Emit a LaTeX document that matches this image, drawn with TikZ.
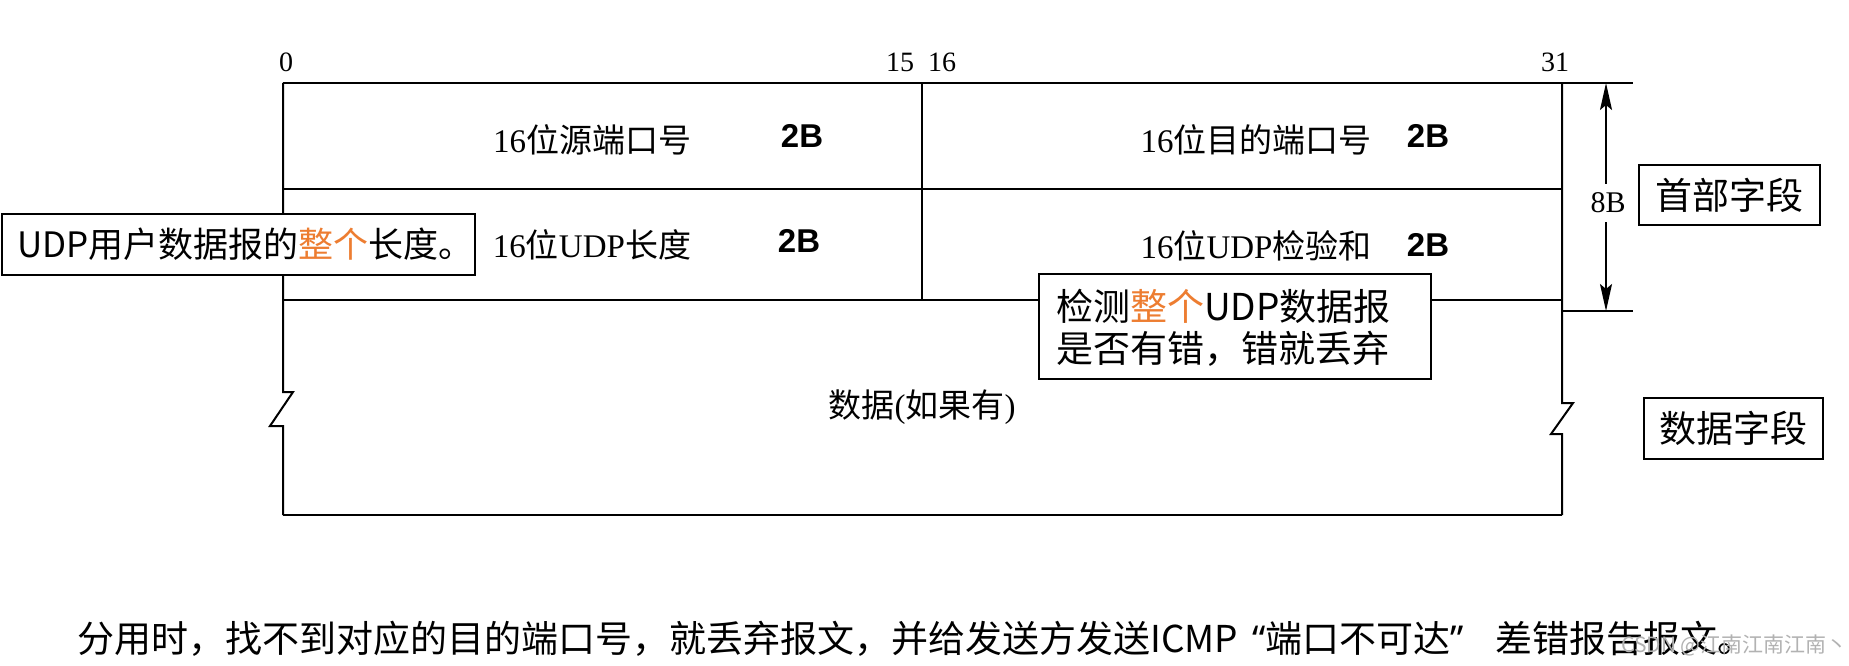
\documentclass[tikz,border=0pt]{standalone}
\usepackage{fontspec}
\setmainfont{Liberation Serif}
\newfontfamily\cjk{Noto Sans CJK SC}
\newfontfamily\bsans{Liberation Sans}
\newfontfamily\lsans{Noto Sans}
\definecolor{orng}{HTML}{ED7D31}
\usetikzlibrary{arrows.meta}
\newcommand{\zg}[1]{{\cjk #1}}
\begin{document}
\begin{tikzpicture}[x=1pt,y=-1pt,
  hline/.style={line width=2.6pt},
  vline/.style={line width=2pt},
  cell/.style={inner sep=0pt, font=\fontsize{33}{40}\selectfont},
  bb/.style={inner sep=0pt, font=\bsans\bfseries\fontsize{33}{38}\selectfont},
  bitlbl/.style={inner sep=0pt, font=\fontsize{28}{32}\selectfont},
  boxnode/.style={draw, line width=2pt, fill=white, inner sep=0pt, anchor=north west},
  cjktext/.style={inner sep=0pt, font=\cjk\fontsize{#1}{#1}\selectfont},
  cjktext/.default=36
]
\useasboundingbox (0,0) rectangle (1849,666);
\fill[white] (0,0) rectangle (1849,666);

% frame
\draw[hline] (283,83) -- (1633,83);
\draw[vline] (283,83) -- (283,392) -- (293,392) -- (270,426) -- (283,426) -- (283,515);
\draw[hline] (283,515) -- (1562,515);
\draw[vline] (1562,515) -- (1562,434) -- (1551,434) -- (1573,403) -- (1562,403) -- (1562,83);
\draw[hline] (283,189) -- (1562,189);
\draw[hline] (283,300) -- (1562,300);
\draw[vline] (922,83) -- (922,300);
\draw[hline] (1562,311) -- (1633,311);

% 8B dimension
\coordinate (atop) at (1606,83);
\coordinate (abot) at (1606,311);
\draw[vline, {Stealth[length=27pt,width=12pt,inset=5pt]}-{Stealth[length=27pt,width=12pt,inset=5pt]}] (atop) -- (abot);
\node[inner sep=0pt, font=\fontsize{30}{34}\selectfont, fill=white, inner xsep=1pt, inner ysep=9pt] (eightb) at (1608,203) {8B};

% bit labels
\node[bitlbl] (b0) at (286,62) {0};
\node[bitlbl] (b15) at (900,62) {15};
\node[bitlbl] (b16) at (942,62) {16};
\node[bitlbl] (b31) at (1555,62) {31};

% cell texts
\node[cell] (src) at (592,140) {16\zg{位源端口号}};
\node[bb] (src2b) at (802,136) {2B};
\node[cell] (dst) at (1256,140) {16\zg{位目的端口号}};
\node[bb] (dst2b) at (1428,136) {2B};
\node[cell] (len) at (592,245) {16\zg{位}UDP\zg{长度}};
\node[bb] (len2b) at (799,241) {2B};
\node[cell] (chk) at (1256,246) {16\zg{位}UDP\zg{检验和}};
\node[bb] (chk2b) at (1428,245) {2B};
\node[cell] (data) at (922,407) {\zg{数据}(\zg{如果有})};

% callouts
\node[boxnode, minimum width=473pt, minimum height=61pt] (lbox) at (1,213) {};
\node[cjktext=35, anchor=west] (ltext) at (17,244) {UDP用户数据报的\textcolor{orng}{整个}长度。};

\node[boxnode, minimum width=392pt, minimum height=105pt] (rbox) at (1038,273) {};
\node[cjktext=37, anchor=west] (rtext1) at (1056,306) {检测\textcolor{orng}{整个}UDP数据报};
\node[cjktext=37, anchor=west] (rtext2) at (1056,349) {是否有错，错就丢弃};

\node[boxnode, minimum width=181pt, minimum height=60pt] (hbox) at (1638,164) {};
\node[cjktext=37] (htext) at (hbox.center) {首部字段};
\node[boxnode, minimum width=179pt, minimum height=61pt] (dbox) at (1643,397) {};
\node[cjktext=37] (dtext) at (dbox.center) {数据字段};

% bottom note
\node[cjktext=37, anchor=west] (note) at (77,639) {分用时，找不到对应的目的端口号，就丢弃报文，并给发送方发送ICMP\hspace{14pt}{\lsans “}端口不可达{\lsans ”}\hspace{32pt}差错报告报文。};

% watermark
\node[cjktext=21, anchor=east, text=black!30] (wm) at (1848,645) {CSDN @江南江南江南丶};
\end{tikzpicture}
\end{document}
